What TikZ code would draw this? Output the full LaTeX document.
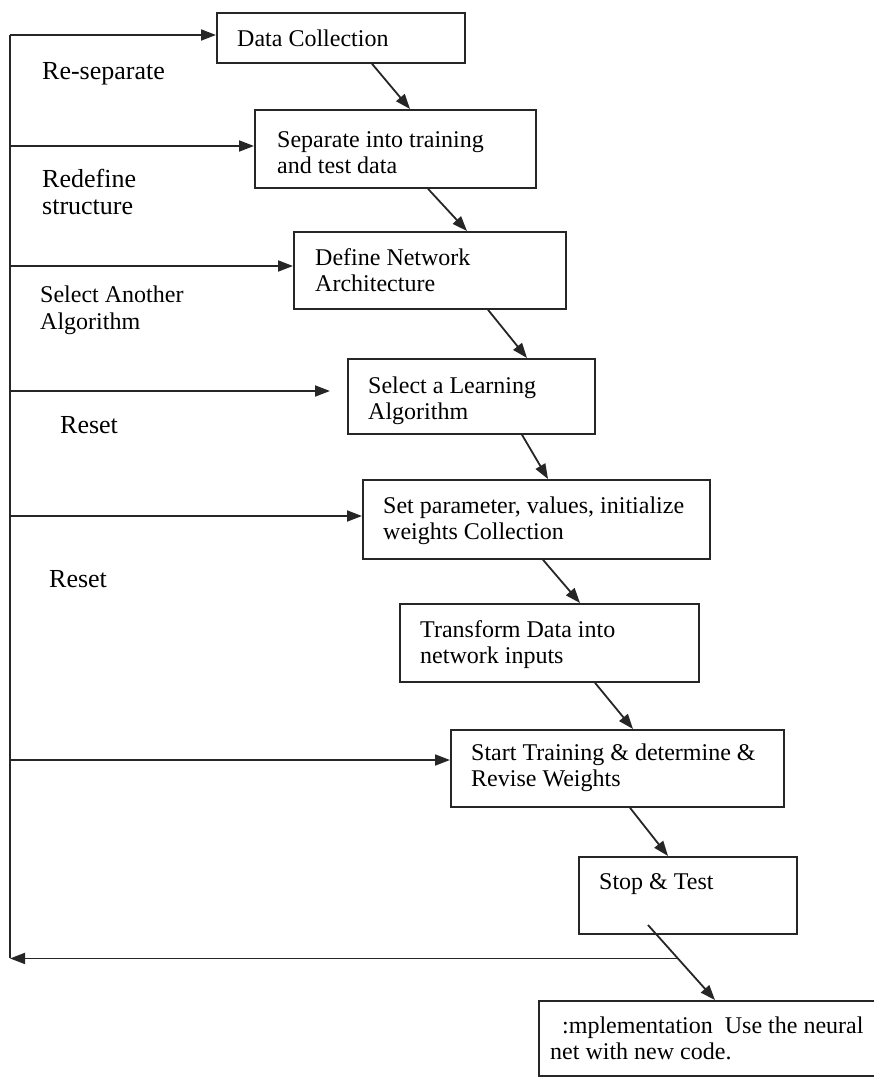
\documentclass[tikz,border=0pt]{standalone}
\usepackage{fontspec}
\setmainfont{Liberation Serif}
\usetikzlibrary{arrows.meta,calc}
\begin{document}
\begin{tikzpicture}[x=1pt,y=-1pt,
  flow/.style={draw=black!85, line width=1.8pt, rectangle, anchor=north west, inner sep=0pt},
  boxtext/.style={anchor=base west, align=left, inner sep=0pt, font=\fontsize{24}{26}\selectfont},
  sidetext/.style={anchor=base west, align=left, inner sep=0pt, font=\fontsize{26}{27}\selectfont},
  arr/.style={draw=black!85, line width=1.8pt, -{Triangle[length=15pt,width=11pt]}},
  link/.style={draw=black!85, line width=1.8pt}]
\clip (0,0) rectangle (874,1078);

% process boxes
\node[flow, minimum width=248pt, minimum height=50pt] (b1) at (216,12) {};
\node[flow, minimum width=281pt, minimum height=78pt] (b2) at (254,109) {};
\node[flow, minimum width=272pt, minimum height=77pt] (b3) at (293,231) {};
\node[flow, minimum width=247pt, minimum height=75pt] (b4) at (347,358) {};
\node[flow, minimum width=347pt, minimum height=79pt] (b5) at (362,479) {};
\node[flow, minimum width=299pt, minimum height=78pt] (b6) at (399,603) {};
\node[flow, minimum width=333pt, minimum height=77pt] (b7) at (450,729) {};
\node[flow, minimum width=218pt, minimum height=77pt] (b8) at (578,856) {};
\node[flow, minimum width=400pt, minimum height=75pt] (b9) at (538,1000) {};

% box texts (anchored on the baseline of the last line)
\node[boxtext] (t1) at (237,47) {Data Collection};
\node[boxtext] (t2) at (277,174) {Separate into training\\and test data};
\node[boxtext] (t3) at (315,291) {Define Network\\Architecture};
\node[boxtext] (t4) at (368,419) {Select a Learning\\Algorithm};
\node[boxtext] (t5) at (383,539) {Set parameter, values, initialize\\weights Collection};
\node[boxtext] (t6) at (420,663) {Transform Data into\\network inputs};
\node[boxtext] (t7) at (471,786) {Start Training \& determine \&\\Revise Weights};
\node[boxtext] (t8) at (599,889) {Stop \& Test};
\node[boxtext] (t9) at (550,1059) {\hspace*{12pt}:mplementation\ \ Use the neural\\net with new code.};

% feedback labels
\node[sidetext] (l1) at (42,80) {Re-separate};
\node[sidetext] (l2) at (42,214) {Redefine\\structure};
\node[sidetext, font=\fontsize{24}{27}\selectfont] (l3) at (40,329) {Select Another\\Algorithm};
\node[sidetext] (l4) at (60,433) {Reset};
\node[sidetext] (l5) at (49,587) {Reset};

% feedback rail on the left
\coordinate (r1) at (10,35);
\coordinate (r2) at (10,146);
\coordinate (r3) at (10,266);
\coordinate (r4) at (10,391);
\coordinate (r5) at (10,516);
\coordinate (r7) at (10,760);
\coordinate (rb) at (10,958);
\draw[link] (r1) -- (rb);

\coordinate (e4) at (330,391);
\draw[arr] (r1) -- (r1 -| b1.west);
\draw[arr] (r2) -- (r2 -| b2.west);
\draw[arr] (r3) -- (r3 -| b3.west);
\draw[arr] (r4) -- (e4);
\draw[arr] (r5) -- (r5 -| b5.west);
\draw[arr] (r7) -- (r7 -| b7.west);

% main flow
\draw[arr] ([xshift=156pt]b1.south west) -- ([xshift=156pt]b2.north west);
\draw[arr] ([xshift=174pt]b2.south west) -- ([xshift=174pt]b3.north west);
\draw[arr] ([xshift=195pt]b3.south west) -- ([xshift=180pt]b4.north west);
\draw[arr] ([xshift=175pt]b4.south west) -- ([xshift=186pt]b5.north west);
\draw[arr] ([xshift=181pt]b5.south west) -- ([xshift=181pt]b6.north west);
\draw[arr] ([xshift=196pt]b6.south west) -- ([xshift=183pt]b7.north west);
\draw[arr] ([xshift=180pt]b7.south west) -- ([xshift=90pt]b8.north west);

\coordinate (s8) at (648,925);
\coordinate (n9) at ([xshift=177pt]b9.north west);
\draw[arr] (s8) -- (n9);

% return path to the rail
\coordinate (x8) at ($(s8)!0.446!(n9)$);
\draw[arr] (x8) -- (x8 -| rb);
\end{tikzpicture}
\end{document}
